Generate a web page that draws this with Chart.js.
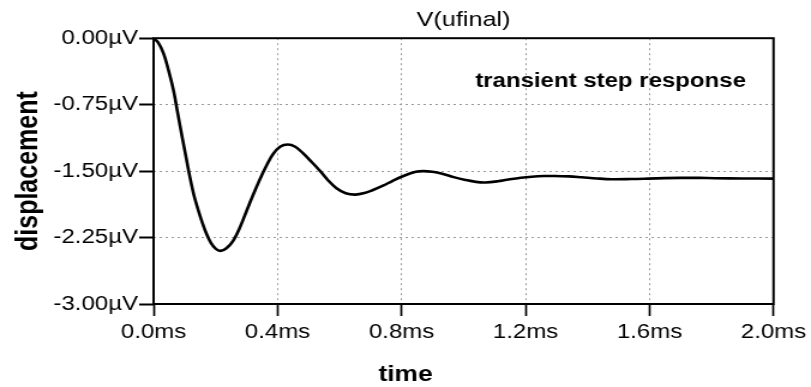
<!DOCTYPE html>
<html>
<head>
<meta charset="utf-8">
<title>V(ufinal)</title>
<script src="https://cdn.jsdelivr.net/npm/chart.js@4.4.0/dist/chart.umd.min.js"></script>
<style>
  html, body { margin: 0; padding: 0; background: #fff; overflow: hidden; }
  canvas { display: block; }
</style>
</head>
<body>
<!-- drawn narrower and stretched sideways, like the LTspice export -->
<canvas id="chart" width="676" height="387" style="width:811px;height:387px"></canvas>
<script>
// time in ms, displacement in µV
const timeMs = [
  0.000, 0.015, 0.032, 0.048, 0.064, 0.077, 0.090, 0.104, 0.117, 0.130,
  0.144, 0.158, 0.171, 0.185, 0.200, 0.216, 0.235, 0.256, 0.278, 0.300,
  0.321, 0.342, 0.364, 0.385, 0.408, 0.433, 0.457, 0.481, 0.508, 0.535,
  0.562, 0.589, 0.620, 0.651, 0.680, 0.706, 0.740, 0.770, 0.808, 0.846,
  0.870, 0.899, 0.931, 0.968, 1.006, 1.040, 1.070, 1.110, 1.145, 1.185,
  1.220, 1.260, 1.295, 1.340, 1.381, 1.430, 1.477, 1.540, 1.595, 1.650,
  1.700, 1.760, 1.810, 1.900, 2.000
];
const displacement = [
  0.000, -0.050, -0.170, -0.360, -0.585, -0.830, -1.075, -1.330, -1.565, -1.770,
  -1.940, -2.090, -2.210, -2.310, -2.375, -2.400, -2.370, -2.290, -2.140, -1.950,
  -1.770, -1.600, -1.440, -1.310, -1.225, -1.200, -1.225, -1.295, -1.390, -1.490,
  -1.600, -1.690, -1.750, -1.765, -1.748, -1.716, -1.665, -1.612, -1.552, -1.508,
  -1.500, -1.508, -1.530, -1.568, -1.600, -1.622, -1.628, -1.615, -1.595, -1.575,
  -1.563, -1.556, -1.555, -1.560, -1.570, -1.583, -1.592, -1.590, -1.585, -1.579,
  -1.576, -1.577, -1.580, -1.583, -1.585
];

const xTicks = [0, 0.4, 0.8, 1.2, 1.6, 2.0];
const yTicks = [0, -0.75, -1.5, -2.25, -3.0];

const plotTitle = 'V(ufinal)';
const noteText = 'transient step response';
const xTitle = 'time';
const yTitle = 'displacement';

const FONT = '"Liberation Sans", Arial, sans-serif';

// frame round the plot, the note inside it and the x title
const frameAndLabels = {
  id: 'frameAndLabels',
  afterDraw(chart) {
    const { ctx, chartArea: a } = chart;
    ctx.save();
    ctx.strokeStyle = '#000';
    ctx.lineWidth = 2;
    ctx.strokeRect(a.left, a.top, a.right - a.left, a.bottom - a.top);

    ctx.fillStyle = '#000';
    ctx.font = 'bold 20px ' + FONT;
    ctx.textAlign = 'right';
    ctx.textBaseline = 'alphabetic';
    ctx.fillText(noteText, a.right - 23, 87);

    ctx.font = 'bold 22px ' + FONT;
    ctx.textAlign = 'center';
    ctx.fillText(xTitle, chart.width / 2, 381);
    ctx.restore();
  }
};

const points = timeMs.map((t, i) => ({ x: t, y: displacement[i] }));

new Chart(document.getElementById('chart'), {
  type: 'line',
  data: {
    datasets: [{
      label: plotTitle,
      data: points,
      borderColor: '#000',
      borderWidth: 2.6,
      pointRadius: 0,
      fill: false,
      tension: 0.35
    }]
  },
  options: {
    responsive: false,
    animation: false,
    layout: { padding: { left: 0, right: 29, top: 0, bottom: 0 } },
    plugins: {
      legend: { display: false },
      tooltip: { enabled: false },
      title: {
        display: true,
        text: plotTitle,
        fullSize: false,
        color: '#000',
        font: { family: FONT, size: 21, weight: 'normal' },
        padding: { top: 8, bottom: 5 }
      }
    },
    scales: {
      x: {
        type: 'linear',
        min: xTicks[0],
        max: xTicks[xTicks.length - 1],
        afterBuildTicks: scale => { scale.ticks = xTicks.map(v => ({ value: v })); },
        afterFit: scale => { scale.height = 83; },
        ticks: {
          color: '#000',
          font: { family: FONT, size: 20 },
          padding: 4,
          maxRotation: 0,
          callback: v => v.toFixed(1) + 'ms'
        },
        grid: {
          color: '#9a9a9a',
          lineWidth: 1,
          tickLength: 12,
          tickColor: '#000',
          tickWidth: 1.7,
          tickBorderDash: []
        },
        border: { display: false, dash: [2, 3] }
      },
      y: {
        type: 'linear',
        min: yTicks[yTicks.length - 1],
        max: yTicks[0],
        afterBuildTicks: scale => { scale.ticks = yTicks.map(v => ({ value: v })); },
        afterFit: scale => { scale.width = 128; },
        ticks: {
          color: '#000',
          font: { family: FONT, size: 20 },
          padding: 1,
          callback: v => v.toFixed(2) + 'µV'
        },
        grid: {
          color: '#9a9a9a',
          lineWidth: 1,
          tickLength: 12,
          tickColor: '#000',
          tickWidth: 2,
          tickBorderDash: []
        },
        border: { display: false, dash: [2, 3] },
        title: {
          display: true,
          text: yTitle,
          color: '#000',
          font: { family: FONT, size: 25, weight: 'bold' },
          padding: { top: 9, bottom: 0 }
        }
      }
    }
  },
  plugins: [frameAndLabels]
});
</script>
</body>
</html>
